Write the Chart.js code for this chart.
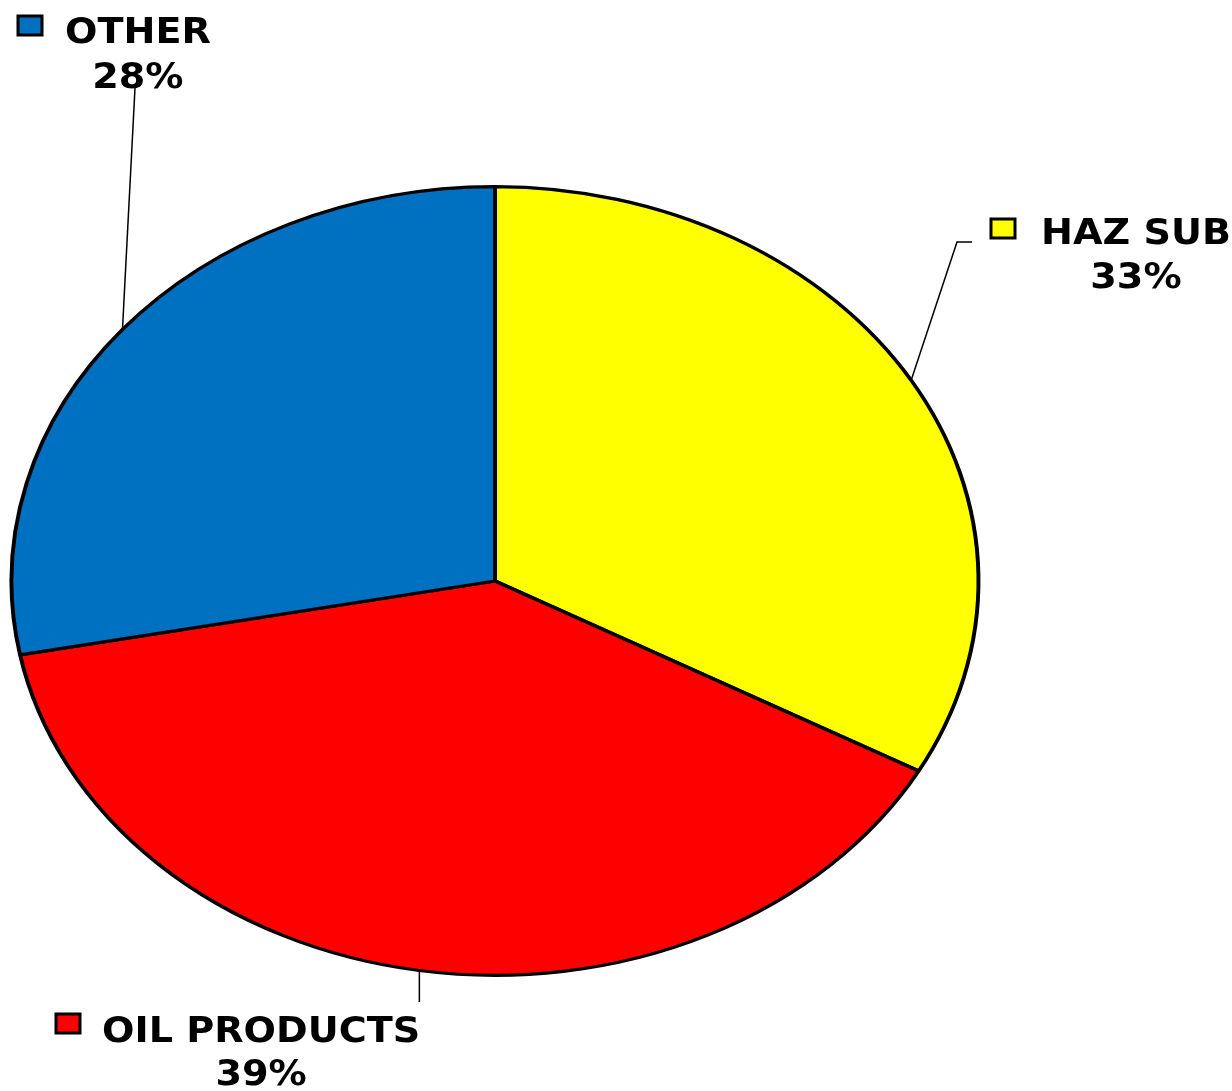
<!DOCTYPE html>
<html>
<head>
<meta charset="utf-8">
<title>Incidents by type</title>
<script src="https://cdn.jsdelivr.net/npm/chart.js@4/dist/chart.umd.min.js"></script>
<style>
    html, body { margin: 0; padding: 0; background: #fff; }
    canvas { display: block; }
</style>
</head>
<body>
<canvas id="pieChart" width="1232" height="1091"></canvas>
<script>
// data, clockwise from 12 o'clock
const categories = ['HAZ SUB', 'OIL PRODUCTS', 'OTHER'];
const shares = [33, 39, 28];
const sliceColors = ['#FFFF00', '#FF0000', '#0070C0'];

// the original pie is an ellipse, wider than tall
const X_STRETCH = 483 / 394;
// label text in the original is a bit wider than DejaVu Bold
const TEXT_STRETCH = 1.06;
const LABEL_FONT = 'bold 36px "DejaVu Sans", Verdana, sans-serif';

// where each callout sits (box, name baseline, % baseline, leader end points)
const labelLayout = [
    { box: [991, 219], nameX: 1041, nameY: 244, pctY: 288, leader: [[957, 242], [972, 242]] },
    { box: [56, 1014], nameX: 102, nameY: 1042, pctY: 1085, leader: [[null, 1002]] },
    { box: [18, 16], nameX: 65, nameY: 43, pctY: 88, leader: [[135, 88]] }
];

/* ================================
   ELLIPSE STRETCH
================================ */

const stretchPlugin = {
    id: 'stretch',
    beforeDatasetsDraw(chart) {
        const arc = chart.getDatasetMeta(0).data[0];
        const ctx = chart.ctx;
        ctx.save();
        ctx.translate(arc.x, 0);
        ctx.scale(X_STRETCH, 1);
        ctx.translate(-arc.x, 0);
    },
    afterDatasetsDraw(chart) {
        chart.ctx.restore();
    }
};

/* ================================
   CALLOUT LABELS
================================ */

function wideText(ctx, text, x, y, align) {
    ctx.save();
    ctx.translate(x, y);
    ctx.scale(TEXT_STRETCH, 1);
    ctx.textAlign = align;
    ctx.fillText(text, 0, 0);
    ctx.restore();
}

const calloutPlugin = {
    id: 'callouts',
    afterDraw(chart) {
        const ctx = chart.ctx;
        const arcs = chart.getDatasetMeta(0).data;
        const total = shares.reduce((s, v) => s + v, 0);

        arcs.forEach((arc, i) => {
            const lay = labelLayout[i];
            const mid = (arc.startAngle + arc.endAngle) / 2;
            const ax = arc.x + Math.cos(mid) * arc.outerRadius * X_STRETCH;
            const ay = arc.y + Math.sin(mid) * arc.outerRadius;

            // leader line
            ctx.save();
            ctx.strokeStyle = '#000';
            ctx.lineWidth = 1.5;
            ctx.beginPath();
            ctx.moveTo(ax, ay);
            lay.leader.forEach(p => ctx.lineTo(p[0] === null ? ax : p[0], p[1]));
            ctx.stroke();

            // legend swatch
            ctx.fillStyle = sliceColors[i];
            ctx.lineWidth = 3;
            ctx.fillRect(lay.box[0], lay.box[1], 24, 19);
            ctx.strokeRect(lay.box[0], lay.box[1], 24, 19);

            // text
            ctx.fillStyle = '#000';
            ctx.font = LABEL_FONT;
            ctx.textBaseline = 'alphabetic';
            wideText(ctx, categories[i], lay.nameX, lay.nameY, 'left');

            const nameW = ctx.measureText(categories[i]).width * TEXT_STRETCH;
            const centre = lay.nameX + nameW / 2;
            wideText(ctx, Math.round(shares[i] / total * 100) + '%', centre, lay.pctY, 'center');
            ctx.restore();
        });
    }
};

new Chart(document.getElementById('pieChart'), {
    type: 'pie',
    data: {
        labels: categories,
        datasets: [{
            data: shares,
            backgroundColor: sliceColors,
            borderColor: '#000',
            borderWidth: 3.2,
            hoverOffset: 0
        }]
    },
    options: {
        responsive: false,
        animation: false,
        layout: { padding: { left: 50, right: 292, top: 185, bottom: 114 } },
        plugins: {
            legend: { display: false },
            tooltip: { enabled: false }
        }
    },
    plugins: [stretchPlugin, calloutPlugin]
});
</script>
</body>
</html>
